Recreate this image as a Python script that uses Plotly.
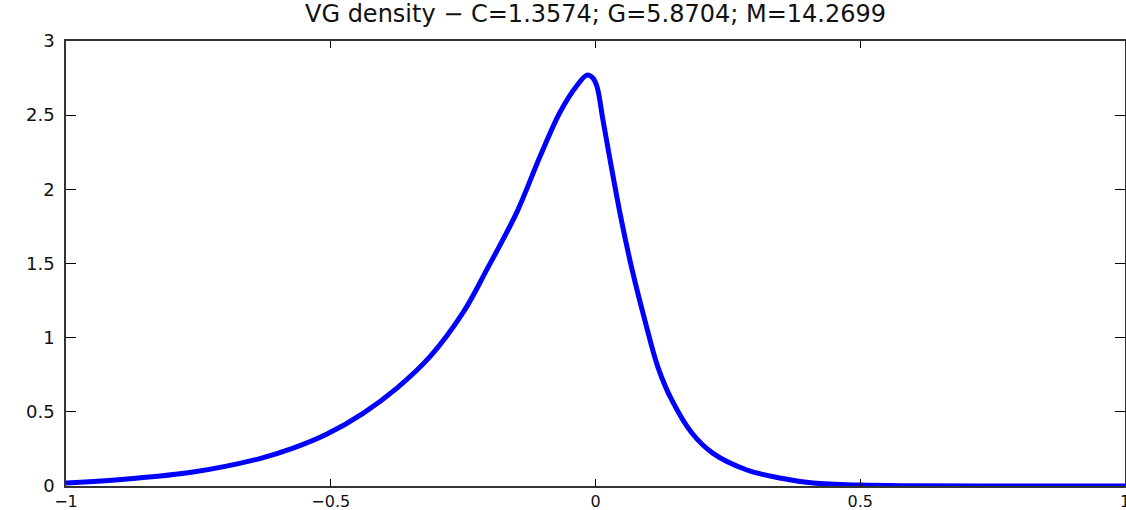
import plotly.graph_objects as go

# Values
x_vals = [-1.0, -0.885, -0.76, -0.634, -0.571, -0.507, -0.439, -0.375, -0.313,
          -0.25, -0.205, -0.148, -0.105, -0.067, -0.035, -0.016, -0.005, 0.003,
          0.014, 0.031, 0.049, 0.069, 0.093, 0.118, 0.144, 0.182, 0.222, 0.286,
          0.348, 0.411, 0.5, 0.6, 0.8, 1.0]
density = [0.02, 0.047, 0.094, 0.185, 0.255, 0.35, 0.49, 0.66, 0.87,
           1.17, 1.46, 1.85, 2.22, 2.52, 2.70, 2.77, 2.75, 2.69,
           2.47, 2.13, 1.79, 1.46, 1.12, 0.80, 0.58, 0.357, 0.22, 0.108,
           0.054, 0.02, 0.006, 0.002, 0.0, 0.0]

x_ticks = [-1, -0.5, 0, 0.5, 1]
x_tick_text = ["\u22121", "\u22120.5", "0", "0.5", "1"]
y_ticks = [0, 0.5, 1, 1.5, 2, 2.5, 3]
y_tick_text = ["0", "0.5", "1", "1.5", "2", "2.5", "3"]

title_text = "VG density \u2212 C=1.3574; G=5.8704; M=14.2699"

fig = go.Figure()
fig.add_trace(go.Scatter(
    x=x_vals, y=density, mode="lines",
    line=dict(color="#0000ff", width=5, shape="spline", smoothing=1.0),
    showlegend=False,
))

font_family = "DejaVu Sans, Liberation Sans, Arial, sans-serif"

fig.update_layout(
    width=1126, height=510,
    margin=dict(l=66, r=1, t=41, b=24, pad=0, autoexpand=False),
    paper_bgcolor="white", plot_bgcolor="white",
    title=dict(text=title_text, x=0.5, xref="paper", xanchor="center",
               y=1 - 14 / 510, yref="container", yanchor="middle",
               font=dict(family=font_family, size=24, color="#111111")),
    font=dict(family=font_family, size=18, color="#111111"),
    xaxis=dict(range=[-1, 1], tickvals=x_ticks, ticktext=x_tick_text,
               ticks="inside", ticklen=7, tickcolor="#000000", tickwidth=1,
               showline=True, linecolor="#333333", linewidth=1.5, mirror="ticks",
               showgrid=False, zeroline=False, ticklabelstandoff=0,
               ticklabeloverflow="allow", automargin=False,
               tickfont=dict(family=font_family, size=16, color="#111111")),
    yaxis=dict(range=[0, 3], tickvals=y_ticks, ticktext=y_tick_text,
               ticks="inside", ticklen=10, tickcolor="#000000", tickwidth=1,
               showline=True, linecolor="#333333", linewidth=1.5, mirror="ticks",
               showgrid=False, zeroline=False, ticklabelstandoff=6,
               ticklabeloverflow="allow", automargin=False,
               tickfont=dict(family=font_family, size=18, color="#111111")),
)

post = (
    "document.body.style.margin='0';"
    "document.body.style.padding='0';"
    "document.body.style.overflow='hidden';"
    "var gd=document.getElementById('{plot_id}');"
    "Plotly.relayout(gd,{width:1126,height:510});"
)

fig.write_html("out.html", post_script=post,
               config={"responsive": False, "displayModeBar": False})
